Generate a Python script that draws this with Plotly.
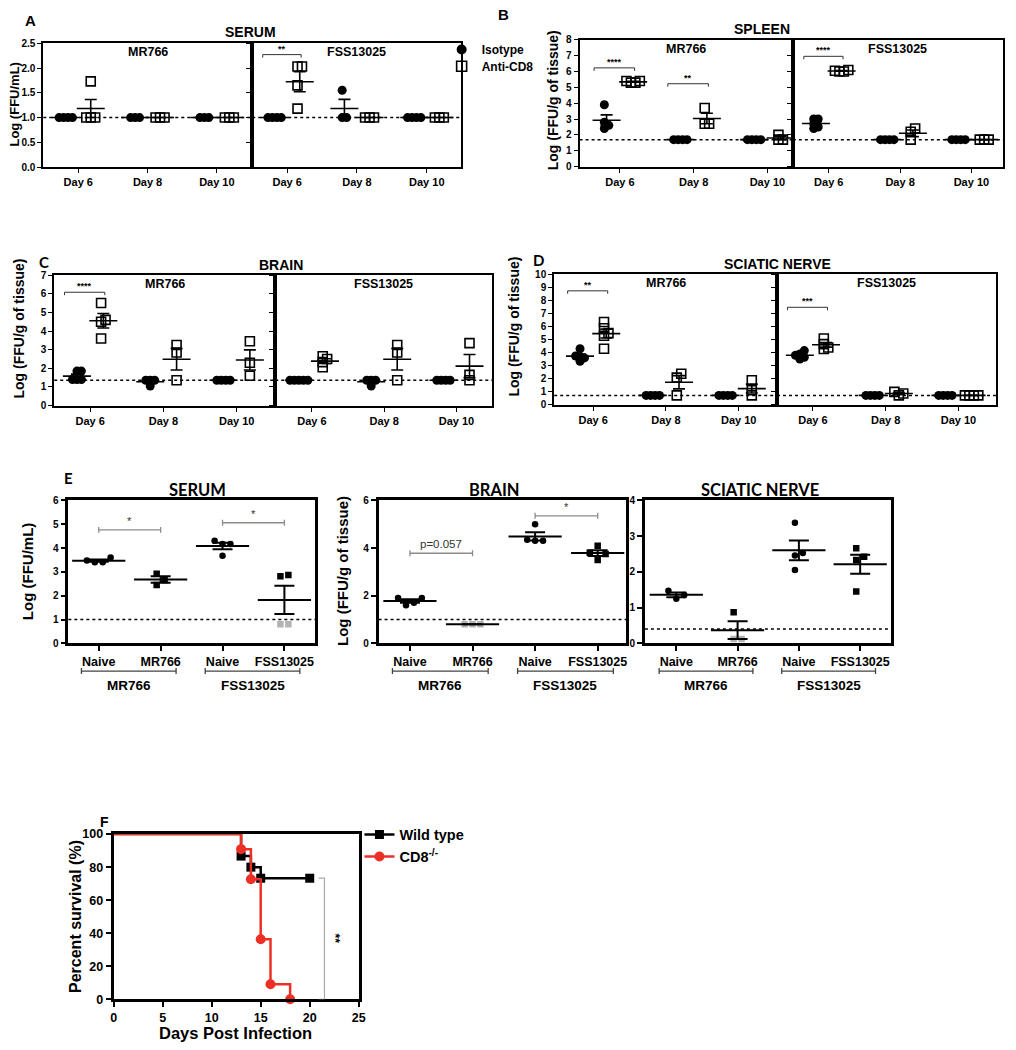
import numpy as np
import plotly.graph_objects as go

W, H = 1016, 1050
ARIAL = "Liberation Sans, Arial, sans-serif"
CALIBRI = "Lato, sans-serif"
GREY = "#b3b3b3"
BRACKET_GREY = "#8c8c8c"
RED = "#ed3026"

DAYS = ["Day 6", "Day 8", "Day 10"]
STRAINS = ["MR766", "FSS13025"]

# ---- A-D: log titres, Isotype vs Anti-CD8, per strain and day ----
serum_iso = {
    "MR766": [[1.0, 1.0, 1.0, 1.0], [1.0, 1.0, 1.0], [1.0, 1.0, 1.0]],
    "FSS13025": [[1.0, 1.0, 1.0, 1.0], [1.55, 1.0, 1.0], [1.0, 1.0, 1.0, 1.0]],
}
serum_cd8 = {
    "MR766": [[1.73, 1.0, 1.0, 1.0], [1.0, 1.0, 1.0], [1.0, 1.0, 1.0]],
    "FSS13025": [[2.03, 2.03, 1.65, 1.18], [1.0, 1.0, 1.0], [1.0, 1.0, 1.0]],
}
spleen_iso = {
    "MR766": [[3.9, 2.8, 2.6, 2.4], [1.7, 1.7, 1.7, 1.7], [1.7, 1.7, 1.7, 1.7]],
    "FSS13025": [[3.0, 3.0, 2.7, 2.5, 2.4], [1.7, 1.7, 1.7, 1.7], [1.7, 1.7, 1.7, 1.7]],
}
spleen_cd8 = {
    "MR766": [[5.3, 5.4, 5.3, 5.4], [3.7, 2.7, 2.7], [2.0, 1.7, 1.7]],
    "FSS13025": [[6.0, 6.05, 6.1, 6.0], [2.4, 2.2, 1.7], [1.7, 1.7, 1.7]],
}
brain_iso = {
    "MR766": [[1.85, 1.85, 1.4, 1.4, 1.4], [1.36, 1.36, 1.36, 1.05], [1.36, 1.36, 1.36, 1.36]],
    "FSS13025": [[1.36, 1.36, 1.36, 1.36, 1.36], [1.36, 1.36, 1.36, 1.05], [1.36, 1.36, 1.36, 1.36]],
}
brain_cd8 = {
    "MR766": [[5.5, 4.6, 4.5, 3.6], [3.25, 2.85, 1.36], [3.45, 2.3, 1.6]],
    "FSS13025": [[2.5, 2.33, 2.65, 2.06], [3.25, 2.85, 1.36], [3.35, 1.65, 1.36]],
}
nerve_iso = {
    "MR766": [[3.75, 3.35, 3.7, 4.3, 3.6], [0.73, 0.73, 0.73, 0.73], [0.73, 0.73, 0.73, 0.73]],
    "FSS13025": [[3.9, 3.52, 3.65, 4.16, 3.8], [0.73, 0.73, 0.73, 0.73], [0.73, 0.73, 0.73, 0.73]],
}
nerve_cd8 = {
    "MR766": [[6.35, 5.87, 5.5, 5.3, 4.3], [2.39, 2.09, 0.73], [1.89, 1.13, 0.73]],
    "FSS13025": [[4.66, 4.28, 4.4, 5.09], [1.0, 0.88, 0.73], [0.73, 0.73, 0.73, 0.73]],
}
serum_lod, spleen_lod, brain_lod, nerve_lod = 1.0, 1.7, 1.36, 0.73

# (strain, day index, bracket height, label)
serum_sig = [("FSS13025", 0, 2.27, "**")]
spleen_sig = [("MR766", 0, 6.23, "****"), ("MR766", 1, 5.23, "**"), ("FSS13025", 0, 6.96, "****")]
brain_sig = [("MR766", 0, 6.08, "****")]
nerve_sig = [("MR766", 0, 8.74, "**"), ("FSS13025", 0, 7.48, "***")]

# ---- E: re-challenge ----
E_GROUPS = ["Naive", "MR766", "Naive", "FSS13025"]
E_SYMBOLS = ["circle", "square", "circle", "square"]
E_STRAINS = ["MR766", "FSS13025"]
e_serum = [[3.48, 3.4, 3.4, 3.6], [2.92, 2.66, 2.45], [4.17, 4.17, 4.3, 3.68], [2.87, 2.82, 0.8, 0.8]]
e_brain = [[1.9, 1.9, 1.6, 1.7], [0.8, 0.8, 0.8], [5.0, 4.35, 4.3, 4.3], [4.1, 3.8, 3.75, 3.5]]
e_nerve = [[1.47, 1.35, 1.25], [0.87, 0.12, 0.12], [3.37, 2.53, 2.46, 2.05], [2.66, 2.42, 2.33, 1.45]]
e_serum_lod, e_brain_lod, e_nerve_lod = 1.0, 1.0, 0.4
e_serum_sig = [(0, 1, 4.76, "*"), (2, 3, 5.06, "*")]
e_brain_sig = [(0, 1, 3.78, "p=0.057"), (2, 3, 5.35, "*")]

# ---- F: survival ----
wt_days = [0, 13, 14, 15, 20]
wt_surv = [100, 86.7, 80.0, 73.3, 73.3]
cd8_days = [0, 13, 14, 15, 16, 18]
cd8_surv = [100, 90.9, 72.7, 36.4, 9.1, 0.0]
survival_sig = (73.3, 0.0, "**")


fig = go.Figure()
layout = {}
shapes = []
annotations = []
n_axes = [0]


def add_axes(left, right, top, bottom, xrange, yrange, xkw, ykw):
    n_axes[0] += 1
    sfx = "" if n_axes[0] == 1 else str(n_axes[0])
    layout["xaxis" + sfx] = dict(domain=[left / W, right / W], range=xrange, anchor="y" + sfx, **xkw)
    layout["yaxis" + sfx] = dict(domain=[1 - bottom / H, 1 - top / H], range=yrange, anchor="x" + sfx, **ykw)
    return "x" + sfx, "y" + sfx


def axis_style(lw, size, ticklen=4, **extra):
    style = dict(
        showline=True, linecolor="black", linewidth=lw, mirror=True,
        showgrid=False, zeroline=False, ticks="outside", ticklen=ticklen,
        tickwidth=max(1.2, lw * 0.7), tickcolor="black", fixedrange=True,
        tickfont=dict(family=ARIAL, size=size, color="black", weight="bold"),
    )
    style.update(extra)
    return style


def label(x, y, s, size, family=ARIAL, angle=0, color="black", bold=True, xanchor="center", yanchor="middle"):
    annotations.append(dict(
        x=x / W, y=1 - y / H, xref="paper", yref="paper", text=s, showarrow=False,
        textangle=angle, xanchor=xanchor, yanchor=yanchor,
        font=dict(family=family, size=size, color=color, weight="bold" if bold else "normal"),
    ))


def legend_box(x, y, size):
    return dict(x=x / W, y=1 - y / H, xanchor="left", yanchor="middle", bgcolor="rgba(0,0,0,0)",
                font=dict(family=ARIAL, size=size, color="black", weight="bold"), itemwidth=30, tracegroupgap=0)


def swarm(values, px_per_unit, step):
    """Spread overlapping points sideways (pixel offsets), GraphPad style."""
    vals = np.asarray(values, dtype=float)
    offs = np.zeros(len(vals))
    placed = []
    for i in np.argsort(vals, kind="stable"):
        yi = vals[i] * px_per_unit
        k = 0
        while True:
            cands = [0.0] if k == 0 else [k * step, -k * step]
            hit = None
            for c in cands:
                if all((c - ox) ** 2 + (yi - oy) ** 2 >= (step * 0.999) ** 2 for ox, oy in placed):
                    hit = c
                    break
            if hit is not None:
                break
            k += 1
        offs[i] = hit
        placed.append((hit, yi))
    return offs - (offs.max() + offs.min()) / 2


def mean_sem(vals):
    v = np.asarray(vals, dtype=float)
    return v.mean(), (v.std(ddof=1) / np.sqrt(len(v)) if len(v) > 1 else 0.0)


# ---------------- A-D ----------------
DAY_PANELS = [
    dict(letter="A", title="SERUM", ytitle="Log (FFU/mL)", iso=serum_iso, cd8=serum_cd8, lod=serum_lod, sig=serum_sig,
         top=36.7, bottom=162.3, yrange=[0, 2.5], dtick=0.5, fmt=".1f",
         halves=[(40.7, 251.7, 76, 70), (251.7, 463, 287, 70.5)],
         letter_xy=(28, 14), title_xy=(250, 25), ytitle_xy=(12, 99), ytitle_size=13, letter_font=ARIAL),
    dict(letter="B", title="SPLEEN", ytitle="Log (FFU/g of tissue)", iso=spleen_iso, cd8=spleen_cd8, lod=spleen_lod, sig=spleen_sig,
         top=33.3, bottom=161.7, yrange=[0, 8], dtick=1, fmt="d",
         halves=[(582.3, 797.7, 623, 74.5), (797.7, 1010, 834, 72)],
         letter_xy=(505, 8), title_xy=(767, 22), ytitle_xy=(555, 95), ytitle_size=14, letter_font=ARIAL),
    dict(letter="C", title="BRAIN", ytitle="Log (FFU/g of tissue)", iso=brain_iso, cd8=brain_cd8, lod=brain_lod, sig=brain_sig,
         top=271.7, bottom=404, yrange=[0, 7], dtick=1, fmt="d",
         halves=[(51.7, 275, 88, 74), (275, 494, 312, 73)],
         letter_xy=(41, 258), title_xy=(281, 261), ytitle_xy=(16, 326), ytitle_size=14, letter_font=CALIBRI),
    dict(letter="D", title="SCIATIC NERVE", ytitle="Log (FFU/g of tissue)", iso=nerve_iso, cd8=nerve_cd8, lod=nerve_lod, sig=nerve_sig,
         top=271, bottom=403.3, yrange=[0, 10], dtick=1, fmt="d",
         halves=[(556.7, 781.7, 596, 73.5), (781.7, 1002.7, 818, 73.5)],
         letter_xy=(541, 256), title_xy=(782, 260), ytitle_xy=(516, 324), ytitle_size=14, letter_font=CALIBRI),
]

for spec in DAY_PANELS:
    top, bottom = spec["top"], spec["bottom"]
    y0, y1 = spec["yrange"]
    ppu = (bottom - top) / (y1 - y0)
    label(*spec["letter_xy"], spec["letter"], 15, family=spec["letter_font"])
    label(*spec["title_xy"], spec["title"], 14)
    label(*spec["ytitle_xy"], spec["ytitle"], spec["ytitle_size"], angle=-90)
    axes_by_strain = {}
    for h, strain in enumerate(STRAINS):
        left, right, tick0, sp = spec["halves"][h]
        xr = [(left - tick0) / sp, (right - tick0) / sp]
        xkw = axis_style(2, 11, tickvals=[0, 1, 2], ticktext=DAYS)
        ykw = axis_style(2, 10, dtick=spec["dtick"], tick0=0, tickformat=spec["fmt"], showticklabels=(h == 0))
        xa, ya = add_axes(left, right, top, bottom, xr, spec["yrange"], xkw, ykw)
        axes_by_strain[strain] = (xa, ya, ppu)
        label((left + right) / 2, top + 9, strain, 12.5)
        shapes.append(dict(type="line", xref=f"{xa} domain", yref=ya, x0=0, x1=1, y0=spec["lod"], y1=spec["lod"],
                           line=dict(color="black", width=1.5, dash="dot"), layer="below"))
        groups = [(spec["iso"][strain], -0.18, dict(symbol="circle", size=9, color="black")),
                  (spec["cd8"][strain], 0.18, dict(symbol="square-open", size=9, color="black", line=dict(width=1.6, color="black")))]
        for vals_by_day, off, marker in groups:
            xs, ys, cx, my, ey = [], [], [], [], []
            for d, vals in enumerate(vals_by_day):
                c = d + off
                xs += list(c + swarm(vals, ppu, 4.5) / sp)
                ys += list(vals)
                m, s = mean_sem(vals)
                cx.append(c)
                my.append(m)
                ey.append(s)
            fig.add_trace(go.Scatter(x=xs, y=ys, mode="markers", marker=marker, xaxis=xa, yaxis=ya,
                                     showlegend=False, hoverinfo="skip", cliponaxis=False))
            fig.add_trace(go.Scatter(x=cx, y=my, mode="markers", xaxis=xa, yaxis=ya, showlegend=False, hoverinfo="skip",
                                     marker=dict(symbol="line-ew", size=20, line=dict(width=1.6, color="black")),
                                     error_y=dict(type="data", array=ey, width=6, thickness=1.6, color="black")))
    for strain, day, yb, txt in spec["sig"]:
        xa, ya, ppu_ = axes_by_strain[strain]
        d = 3 / ppu_
        x0, x1 = day - 0.35, day + 0.2
        shapes.append(dict(type="path", xref=xa, yref=ya,
                           path=f"M {x0},{yb - d} L {x0},{yb} L {x1},{yb} L {x1},{yb - d}",
                           line=dict(color="#333333", width=1)))
        annotations.append(dict(x=(x0 + x1) / 2, y=yb, xref=xa, yref=ya, text=txt, showarrow=False,
                                yanchor="bottom", yshift=-1, font=dict(family=ARIAL, size=9, color="black", weight="bold")))

# key for A-D (one legend box per entry, so each sits where the reference puts it)
fig.add_trace(go.Scatter(x=[None], y=[None], mode="markers", name="Isotype", legend="legend",
                         marker=dict(symbol="circle", size=10, color="black")))
fig.add_trace(go.Scatter(x=[None], y=[None], mode="markers", name="Anti-CD8", legend="legend3",
                         marker=dict(symbol="square-open", size=10, color="black", line=dict(width=1.6))))

# ---------------- E ----------------
E_TOP, E_BOTTOM = 500, 645
E_PANELS = [
    dict(title="SERUM", data=e_serum, lod=e_serum_lod, sig=e_serum_sig, yrange=[0, 6], dtick=1,
         x=(66, 315, 96.7, 62.5), title_x=196.7, ytitle="Log (FFU/mL)", ytitle_x=25),
    dict(title="BRAIN", data=e_brain, lod=e_brain_lod, sig=e_brain_sig, yrange=[0, 6], dtick=2,
         x=(379.3, 629.3, 411, 63.2), title_x=496.7, ytitle="Log (FFU/g of tissue)", ytitle_x=343),
    dict(title="SCIATIC NERVE", data=e_nerve, lod=e_nerve_lod, sig=[], yrange=[0, 4], dtick=1,
         x=(648.3, 896.7, 680, 61.9), title_x=765, ytitle=None, ytitle_x=None),
]
label(66, 477, "E", 15, family=CALIBRI)
for spec in E_PANELS:
    left, right, tick0, sp = spec["x"]
    y0, y1 = spec["yrange"]
    ppu = (E_BOTTOM - E_TOP) / (y1 - y0)
    xr = [(left - tick0) / sp, (right - tick0) / sp]
    xkw = axis_style(2.5, 12.5, ticklen=5, tickvals=[0, 1, 2, 3], ticktext=E_GROUPS)
    ykw = axis_style(2.5, 10, ticklen=5, dtick=spec["dtick"], tick0=0)
    xa, ya = add_axes(left, right, E_TOP, E_BOTTOM, xr, spec["yrange"], xkw, ykw)
    label(spec["title_x"], 490, spec["title"], 16.5, family=CALIBRI)
    if spec["ytitle"]:
        label(spec["ytitle_x"], 572, spec["ytitle"], 15, angle=-90)
    shapes.append(dict(type="line", xref=f"{xa} domain", yref=ya, x0=0, x1=1, y0=spec["lod"], y1=spec["lod"],
                       line=dict(color="black", width=1.5, dash="dot"), layer="below"))
    for g, vals in enumerate(spec["data"]):
        xs = list(g + swarm(vals, ppu, 8) / sp)
        colors = [GREY if v < spec["lod"] else "black" for v in vals]
        fig.add_trace(go.Scatter(x=xs, y=vals, mode="markers", xaxis=xa, yaxis=ya, showlegend=False, hoverinfo="skip",
                                 marker=dict(symbol=E_SYMBOLS[g], size=6.5, color=colors)))
    means = [mean_sem(v)[0] for v in spec["data"]]
    sems = [mean_sem(v)[1] for v in spec["data"]]
    fig.add_trace(go.Scatter(x=[0, 1, 2, 3], y=means, mode="markers", xaxis=xa, yaxis=ya, showlegend=False,
                             hoverinfo="skip", marker=dict(symbol="line-ew", size=38, line=dict(width=2, color="black")),
                             error_y=dict(type="data", array=sems, width=10, thickness=2, color="black")))
    for ga, gb, yb, txt in spec["sig"]:
        d = 3 / ppu
        shapes.append(dict(type="path", xref=xa, yref=ya,
                           path=f"M {ga},{yb - d} L {ga},{yb + d} M {ga},{yb} L {gb},{yb} M {gb},{yb - d} L {gb},{yb + d}",
                           line=dict(color=BRACKET_GREY, width=1.3)))
        annotations.append(dict(x=(ga + gb) / 2, y=yb, xref=xa, yref=ya, text=txt, showarrow=False, yanchor="bottom",
                                yshift=1, font=dict(family=ARIAL, size=11.5 if len(txt) > 1 else 11, color="#333333")))
    # strain brackets under the axis
    for s, strain in enumerate(E_STRAINS):
        ga, gb = 2 * s - 0.28, 2 * s + 1 + 0.25
        yb, d = 1 - 673 / H, 3 / H
        shapes.append(dict(type="path", xref=xa, yref="paper",
                           path=f"M {ga},{yb - d} L {ga},{yb + d} M {ga},{yb} L {gb},{yb} M {gb},{yb - d} L {gb},{yb + d}",
                           line=dict(color="#444444", width=1.3)))
        annotations.append(dict(x=(ga + gb) / 2, y=1 - 688 / H, xref=xa, yref="paper", text=strain, showarrow=False,
                                yanchor="middle", font=dict(family=ARIAL, size=13.5, color="black", weight="bold")))

# ---------------- F ----------------
label(103, 826, "F", 14)
xkw = axis_style(2.8, 12.5, ticklen=5, dtick=5, tick0=0)
ykw = axis_style(2.8, 12.5, ticklen=5, dtick=20, tick0=0)
xa, ya = add_axes(111.7, 359.3, 838.3, 1005.7, [0, 25], [0, 100], xkw, ykw)
label(235, 1040, "Days Post Infection", 16.5)
label(73, 922, "Percent survival (%)", 16, angle=-90)
for days, surv, color, symbol, size, name in [
    (wt_days, wt_surv, "black", "square", 9, "Wild type"),
    (cd8_days, cd8_surv, RED, "circle", 10, "CD8<sup>-/-</sup>"),
]:
    fig.add_trace(go.Scatter(x=days, y=surv, mode="lines", line=dict(shape="hv", color=color, width=2.5),
                             xaxis=xa, yaxis=ya, showlegend=False, hoverinfo="skip", cliponaxis=False))
    fig.add_trace(go.Scatter(x=days[1:], y=surv[1:], mode="markers", marker=dict(symbol=symbol, size=size, color=color),
                             xaxis=xa, yaxis=ya, showlegend=False, cliponaxis=False))
    fig.add_trace(go.Scatter(x=[None], y=[None], mode="lines+markers", name=name, legend="legend2",
                             line=dict(color=color, width=2.5), marker=dict(symbol=symbol, size=size, color=color)))
top_sig, bot_sig, sig_txt = survival_sig
shapes.append(dict(type="path", xref=xa, yref=ya,
                   path=f"M 20.9,{top_sig} L 21.5,{top_sig} L 21.5,{bot_sig} L 20.9,{bot_sig}",
                   line=dict(color="#aaaaaa", width=1.2)))
annotations.append(dict(x=22.6, y=(top_sig + bot_sig) / 2, xref=xa, yref=ya, text=sig_txt, showarrow=False,
                        textangle=90, font=dict(family=ARIAL, size=12, color="black", weight="bold")))

legend2 = legend_box(360, 850, 14.5)
fig.update_layout(
    width=W, height=H, margin=dict(l=0, r=0, t=0, b=0),
    paper_bgcolor="white", plot_bgcolor="white",
    shapes=shapes, annotations=annotations,
    legend=legend_box(443, 43, 12),
    legend3=legend_box(443, 60, 12),
    legend2=legend2,
    **layout,
)

fig.write_html("out.html", config={"displayModeBar": False},
               post_script="document.body.style.margin='0px';document.body.style.overflow='hidden';")
